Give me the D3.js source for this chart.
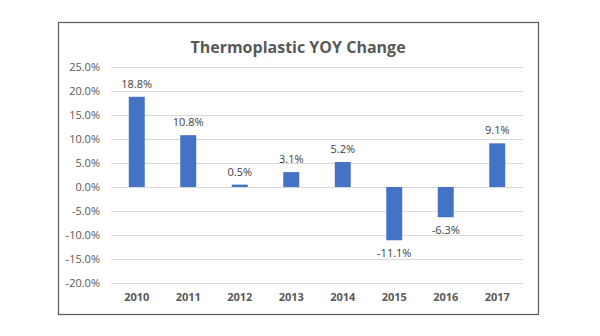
<!DOCTYPE html>
<html>
<head>
<meta charset="utf-8">
<script src="https://cdn.jsdelivr.net/npm/d3@7"></script>
<style>
  body { margin: 0; background: #fff; }
  text { font-family: "Open Sans", "Noto Sans", sans-serif; }
</style>
</head>
<body>
<div id="myPlot"></div>
<script>
const years = ["2010", "2011", "2012", "2013", "2014", "2015", "2016", "2017"]
const yoyChange = [18.8, 10.8, 0.5, 3.1, 5.2, -11.1, -6.3, 9.1]
const yTicks = [25, 20, 15, 10, 5, 0, -5, -10, -15, -20]

const clientWidth = 600
const clientHeight = 336
const frame = {x: 58, y: 22, width: 480, height: 292}
const margin = {top: 67, left: 111, right: 77, bottom: 53}

const width = clientWidth - margin.left - margin.right
const height = clientHeight - margin.top - margin.bottom

const svg = d3.select("#myPlot").append("svg")
    .attr("width", clientWidth)
    .attr("height", clientHeight)

// chart area border
svg.append("rect")
    .attr("x", frame.x + 0.5)
    .attr("y", frame.y + 0.5)
    .attr("width", frame.width)
    .attr("height", frame.height)
    .attr("fill", "#fff")
    .attr("stroke", "#595959")
    .attr("stroke-width", 1.2)

svg.append("text")
    .attr("x", frame.x + frame.width / 2)
    .attr("y", 53)
    .attr("text-anchor", "middle")
    .attr("font-size", 16)
    .attr("font-weight", "bold")
    .attr("fill", "#595959")
    .text("Thermoplastic YOY Change")

const g = svg.append("g")
    .attr("transform", `translate(${margin.left}, ${margin.top})`)

const xScale = d3.scaleBand()
    .domain(years)
    .range([0, width])
    .paddingInner(0.69)
    .paddingOuter(0.345)

const yScale = d3.scaleLinear()
    .domain([-20, 25])
    .range([height, 0])

// horizontal gridlines
g.append("g")
    .selectAll("line")
    .data(yTicks)
    .join("line")
    .attr("x1", 0)
    .attr("x2", width)
    .attr("y1", d => Math.round(yScale(d)) + 0.5)
    .attr("y2", d => Math.round(yScale(d)) + 0.5)
    .attr("stroke", "#d9d9d9")
    .attr("stroke-width", 1)

const yAxis = d3.axisLeft(yScale)
    .tickValues(yTicks)
    .tickSize(0)
    .tickPadding(11)
    .tickFormat(d => d.toFixed(1) + "%")

g.append("g")
    .attr("class", "y axis")
    .call(yAxis)
    .call(a => a.select(".domain").remove())
    .selectAll("text")
    .attr("font-size", 11)
    .attr("fill", "#595959")

g.selectAll(".bar")
    .data(years)
    .join("rect")
    .attr("class", "bar")
    .attr("x", d => xScale(d))
    .attr("width", xScale.bandwidth())
    .attr("y", (d, i) => yScale(Math.max(0, yoyChange[i])))
    .attr("height", (d, i) => Math.abs(yScale(yoyChange[i]) - yScale(0)))
    .attr("fill", "#4472C4")

g.selectAll(".label")
    .data(years)
    .join("text")
    .attr("class", "label")
    .attr("x", d => xScale(d) + xScale.bandwidth() / 2)
    .attr("y", (d, i) => yoyChange[i] >= 0
        ? yScale(yoyChange[i]) - 9
        : yScale(yoyChange[i]) + 17)
    .attr("text-anchor", "middle")
    .attr("font-size", 11)
    .attr("fill", "#404040")
    .text((d, i) => yoyChange[i].toFixed(1) + "%")

const xAxis = d3.axisBottom(xScale)
    .tickSize(0)
    .tickPadding(10)

g.append("g")
    .attr("class", "x axis")
    .attr("transform", `translate(0, ${height})`)
    .call(xAxis)
    .call(a => a.select(".domain").remove())
    .selectAll("text")
    .attr("font-size", 11)
    .attr("font-weight", "bold")
    .attr("fill", "#595959")
</script>
</body>
</html>
